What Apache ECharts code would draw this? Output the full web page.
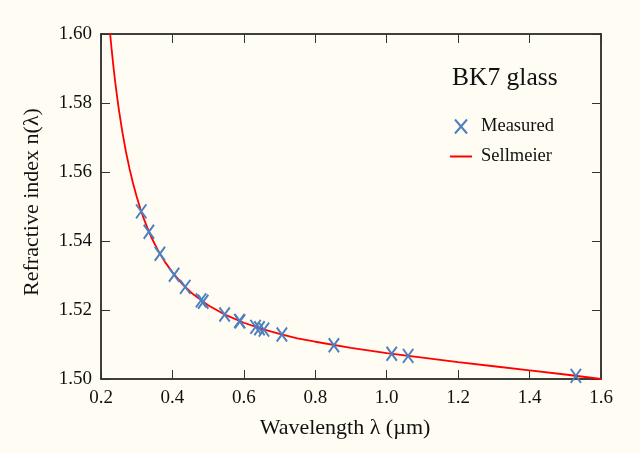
<!DOCTYPE html>
<html>
<head>
<meta charset="utf-8">
<script src="https://cdn.jsdelivr.net/npm/echarts@6/dist/echarts.min.js"></script>
<style>
html,body{margin:0;padding:0;background:#fefcf3;}
#chart{width:640px;height:453px;}
</style>
</head>
<body>
<div id="chart"></div>
<script>
const measuredWavelength = [0.3126,0.3341,0.3650,0.4047,0.4358,0.4800,0.4861,0.5461,0.5876,0.5893,0.6328,0.6438,0.6563,0.7065,0.8521,1.0140,1.0600,1.5296];
const measuredIndex = [1.5486,1.5427,1.5363,1.5302,1.5267,1.5228,1.5224,1.5187,1.5168,1.5167,1.5151,1.5147,1.5143,1.5129,1.5098,1.5073,1.5067,1.5009];
const sellmeierWavelength = [0.225,0.23,0.235,0.24,0.245,0.25,0.26,0.27,0.28,0.29,0.30,0.31,0.32,0.33,0.34,0.35,0.36,0.375,0.38,0.40,0.43,0.45,0.46,0.50,0.55,0.60,0.65,0.70,0.75,0.80,0.90,1.0,1.1,1.2,1.3,1.4,1.5,1.6];
const sellmeierIndex = [1.6007,1.5953,1.5904,1.5859,1.5819,1.5781,1.5715,1.5658,1.5609,1.5566,1.5528,1.5494,1.5464,1.5438,1.5413,1.5392,1.5372,1.5346,1.5338,1.5309,1.5273,1.5253,1.5244,1.5214,1.5185,1.5163,1.5145,1.5131,1.5118,1.5108,1.5090,1.5075,1.5062,1.5049,1.5037,1.5025,1.5013,1.5000];
const xTicks = {min:0.2, max:1.6, interval:0.2};
const yTicks = {min:1.50, max:1.60, interval:0.02};

const font = '"Liberation Serif","DejaVu Serif",serif';
const blue = '#4c7fc0';
const xPath = 'path://M0,0L12,14M12,0L0,14';

const chart = echarts.init(document.getElementById('chart'));
const axisLine = {show:true, lineStyle:{color:'#000', width:1.5}};
const axisTick = {show:true, inside:true, length:9, lineStyle:{color:'#333', width:1}};
chart.setOption({
  backgroundColor:'#fefcf3',
  animation:false,
  title:{text:'BK7 glass', left:452, top:65, padding:0, textStyle:{fontFamily:font, fontSize:25.5, fontWeight:'normal', color:'#111'}},
  legend:{
    orient:'vertical', left:449, top:117, padding:0, itemWidth:22, itemHeight:14, itemGap:11,
    textStyle:{fontFamily:font, fontSize:18.5, color:'#111', padding:[0,0,0,4]},
    data:[
      {name:'Measured', itemStyle:{color:'rgba(0,0,0,0)', borderColor:blue, borderWidth:2}},
      {name:'Sellmeier', itemStyle:{color:'rgba(0,0,0,0)', borderColor:'rgba(0,0,0,0)', borderWidth:0}}
    ]
  },
  grid:{left:101, right:39, top:34, bottom:74},
  xAxis:[{
    type:'value', min:xTicks.min, max:xTicks.max, interval:xTicks.interval,
    name:'Wavelength λ (µm)', nameLocation:'middle', nameGap:38,
    nameTextStyle:{fontFamily:font, fontSize:22, color:'#111', padding:[0,12,0,0]},
    axisLine:axisLine, axisTick:axisTick, splitLine:{show:false},
    axisLabel:{fontFamily:font, fontSize:19, color:'#111', margin:10, formatter:v=>v.toFixed(1)}
  },{
    type:'value', position:'top', min:xTicks.min, max:xTicks.max, interval:xTicks.interval,
    axisLine:axisLine, axisTick:axisTick, splitLine:{show:false}, axisLabel:{show:false}
  }],
  yAxis:[{
    type:'value', min:yTicks.min, max:yTicks.max, interval:yTicks.interval,
    name:'Refractive index n(λ)', nameLocation:'middle', nameGap:58,
    nameTextStyle:{fontFamily:font, fontSize:22, color:'#111', padding:[0,0,0,9]},
    axisLine:axisLine, axisTick:axisTick, splitLine:{show:false},
    axisLabel:{fontFamily:font, fontSize:19, color:'#111', margin:9, formatter:v=>v.toFixed(2)}
  },{
    type:'value', position:'right', min:yTicks.min, max:yTicks.max, interval:yTicks.interval,
    axisLine:axisLine, axisTick:axisTick, splitLine:{show:false}, axisLabel:{show:false}
  }],
  series:[{
    name:'Sellmeier', type:'line', smooth:false, symbol:'none', clip:true,
    lineStyle:{color:'#ff0000', width:1.8}, itemStyle:{color:'#ff0000'},
    data:sellmeierWavelength.map((w,i)=>[w, sellmeierIndex[i]]), z:2
  },{
    name:'Measured', type:'scatter', symbol:xPath, symbolSize:[12,14], symbolKeepAspect:true,
    itemStyle:{color:'rgba(0,0,0,0)', borderColor:blue, borderWidth:2, opacity:1},
    data:measuredWavelength.map((w,i)=>[w, measuredIndex[i]]), z:3
  }]
});
</script>
</body>
</html>
